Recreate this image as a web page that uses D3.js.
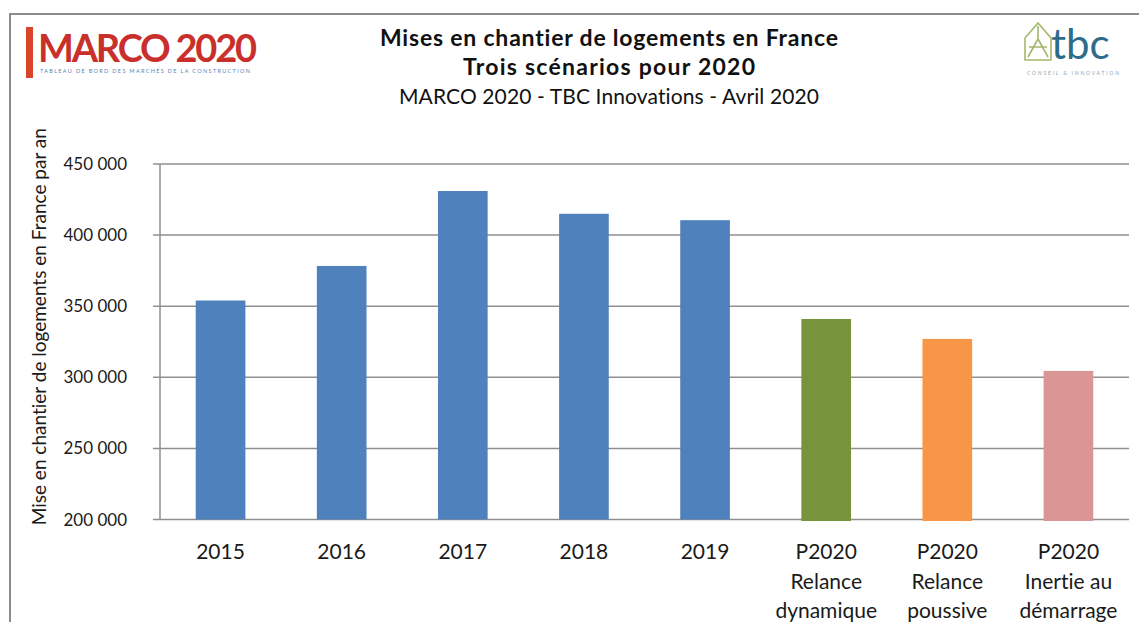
<!DOCTYPE html>
<html>
<head>
<meta charset="utf-8">
<script src="https://cdn.jsdelivr.net/npm/d3@7"></script>
<style>
    body { margin: 0; background: #fff; }
    svg { display: block; font-family: Lato, "Open Sans", sans-serif; font-variant-ligatures: none; }
</style>
</head>
<body>
<svg id="chart" width="1139" height="622"></svg>
<script>
const CATEGORIES = ["2015", "2016", "2017", "2018", "2019", "P2020 dyn", "P2020 pou", "P2020 ine"]
const LABELS = [["2015"], ["2016"], ["2017"], ["2018"], ["2019"],
    ["P2020", "Relance", "dynamique"], ["P2020", "Relance", "poussive"], ["P2020", "Inertie au", "démarrage"]]
const VALUES = [354000, 378300, 431000, 415000, 410500, 341000, 327000, 304500]
const BAR_COLORS = ["#4F81BD", "#4F81BD", "#4F81BD", "#4F81BD", "#4F81BD", "#77933C", "#F79646", "#D99694"]
const Y_TICKS = [200000, 250000, 300000, 350000, 400000, 450000]

const svg = d3.select("#chart")
const fmt = value => d3.format(",")(value).replace(/,/g, " ")

// outer frame
svg.append("path")
    .attr("d", "M10,622 L10,14 L1139,14")
    .attr("fill", "none")
    .attr("stroke", "#8c8c8c")
    .attr("stroke-width", 2)

// titles
let titles = svg.append("g").attr("text-anchor", "middle").attr("fill", "#111")
titles.append("text").attr("x", 609).attr("y", 46)
    .style("font-size", "23px").style("font-weight", "bold")
    .attr("textLength", 458)
    .text("Mises en chantier de logements en France")
titles.append("text").attr("x", 609).attr("y", 75)
    .style("font-size", "23px").style("font-weight", "bold")
    .attr("textLength", 292)
    .text("Trois scénarios pour 2020")
titles.append("text").attr("x", 609).attr("y", 104)
    .style("font-size", "21px")
    .attr("textLength", 420)
    .text("MARCO 2020 - TBC Innovations - Avril 2020")

// MARCO logo
let marco = svg.append("g")
marco.append("rect").attr("x", 26).attr("y", 27).attr("width", 7).attr("height", 51).attr("fill", "#d9452a")
marco.append("text").attr("x", 38).attr("y", 62)
    .style("font-size", "38px").style("font-weight", "bold")
    .attr("fill", "#c9302c")
    .attr("textLength", 219)
    .text("MARCO 2020")
marco.append("text").attr("x", 40).attr("y", 73)
    .style("font-size", "5.5px")
    .attr("fill", "#5a7fb0")
    .attr("textLength", 210)
    .text("TABLEAU DE BORD DES MARCHÉS DE LA CONSTRUCTION")

// TBC logo
let tbc = svg.append("g")
tbc.append("path")
    .attr("d", "M1025,60 L1025,38 L1038,23 L1051,38 L1051,60 Z M1028,57 L1038,39 L1048,57 M1038,26 L1038,41 M1029,47 L1047,47")
    .attr("fill", "none").attr("stroke", "#a3b86c").attr("stroke-width", 1.6)
tbc.append("text").attr("x", 1051).attr("y", 59)
    .style("font-size", "42px")
    .attr("fill", "#2d6d8a")
    .text("tbc")
tbc.append("text").attr("x", 1027).attr("y", 75)
    .style("font-size", "5px")
    .attr("fill", "#8aa3b5")
    .attr("textLength", 92)
    .text("CONSEIL & INNOVATION")

// scales
const x = d3.scaleBand().domain(CATEGORIES).range([160, 1129]).paddingInner(0.59).paddingOuter(0.295)
const y = d3.scaleLinear().domain([200000, 450000]).range([519.5, 164])

// grid
svg.append("g")
    .selectAll("line")
    .data(Y_TICKS)
    .join("line")
    .attr("x1", 153).attr("x2", 1129)
    .attr("y1", d => y(d)).attr("y2", d => y(d))
    .attr("stroke", "#8f8f8f").attr("stroke-width", 1.5)

svg.append("line")
    .attr("x1", 160).attr("x2", 160)
    .attr("y1", y(450000)).attr("y2", y(200000))
    .attr("stroke", "#8f8f8f").attr("stroke-width", 1.5)

// y tick labels
svg.append("g")
    .attr("text-anchor", "end")
    .selectAll("text")
    .data(Y_TICKS)
    .join("text")
    .attr("x", 127).attr("y", d => y(d) + 6)
    .style("font-size", "17px")
    .attr("fill", "#1a1a1a")
    .text(fmt)

// y axis title
svg.append("text")
    .attr("transform", `translate(46, ${(y(450000) + y(200000)) / 2 - 15}) rotate(-90)`)
    .attr("text-anchor", "middle")
    .style("font-size", "19px")
    .attr("fill", "#1a1a1a")
    .text("Mise en chantier de logements en France par an")

// bars
svg.append("g")
    .selectAll("rect")
    .data(CATEGORIES)
    .join("rect")
    .attr("x", d => x(d))
    .attr("width", x.bandwidth())
    .attr("y", (d, i) => y(VALUES[i]))
    .attr("height", (d, i) => y(200000) - y(VALUES[i]) + (i > 4 ? 1.5 : 0))
    .attr("fill", (d, i) => BAR_COLORS[i])

// x labels
svg.append("g")
    .attr("text-anchor", "middle")
    .selectAll("text")
    .data(CATEGORIES)
    .join("text")
    .attr("x", d => x(d) + x.bandwidth() / 2)
    .attr("y", 559)
    .style("font-size", "21px")
    .attr("fill", "#1a1a1a")
    .each(function(d, i) {
        d3.select(this).selectAll("tspan")
            .data(LABELS[i])
            .join("tspan")
            .attr("x", x(d) + x.bandwidth() / 2)
            .attr("dy", (t, j) => j === 0 ? 0 : 29.5)
            .text(t => t)
    })
</script>
</body>
</html>
